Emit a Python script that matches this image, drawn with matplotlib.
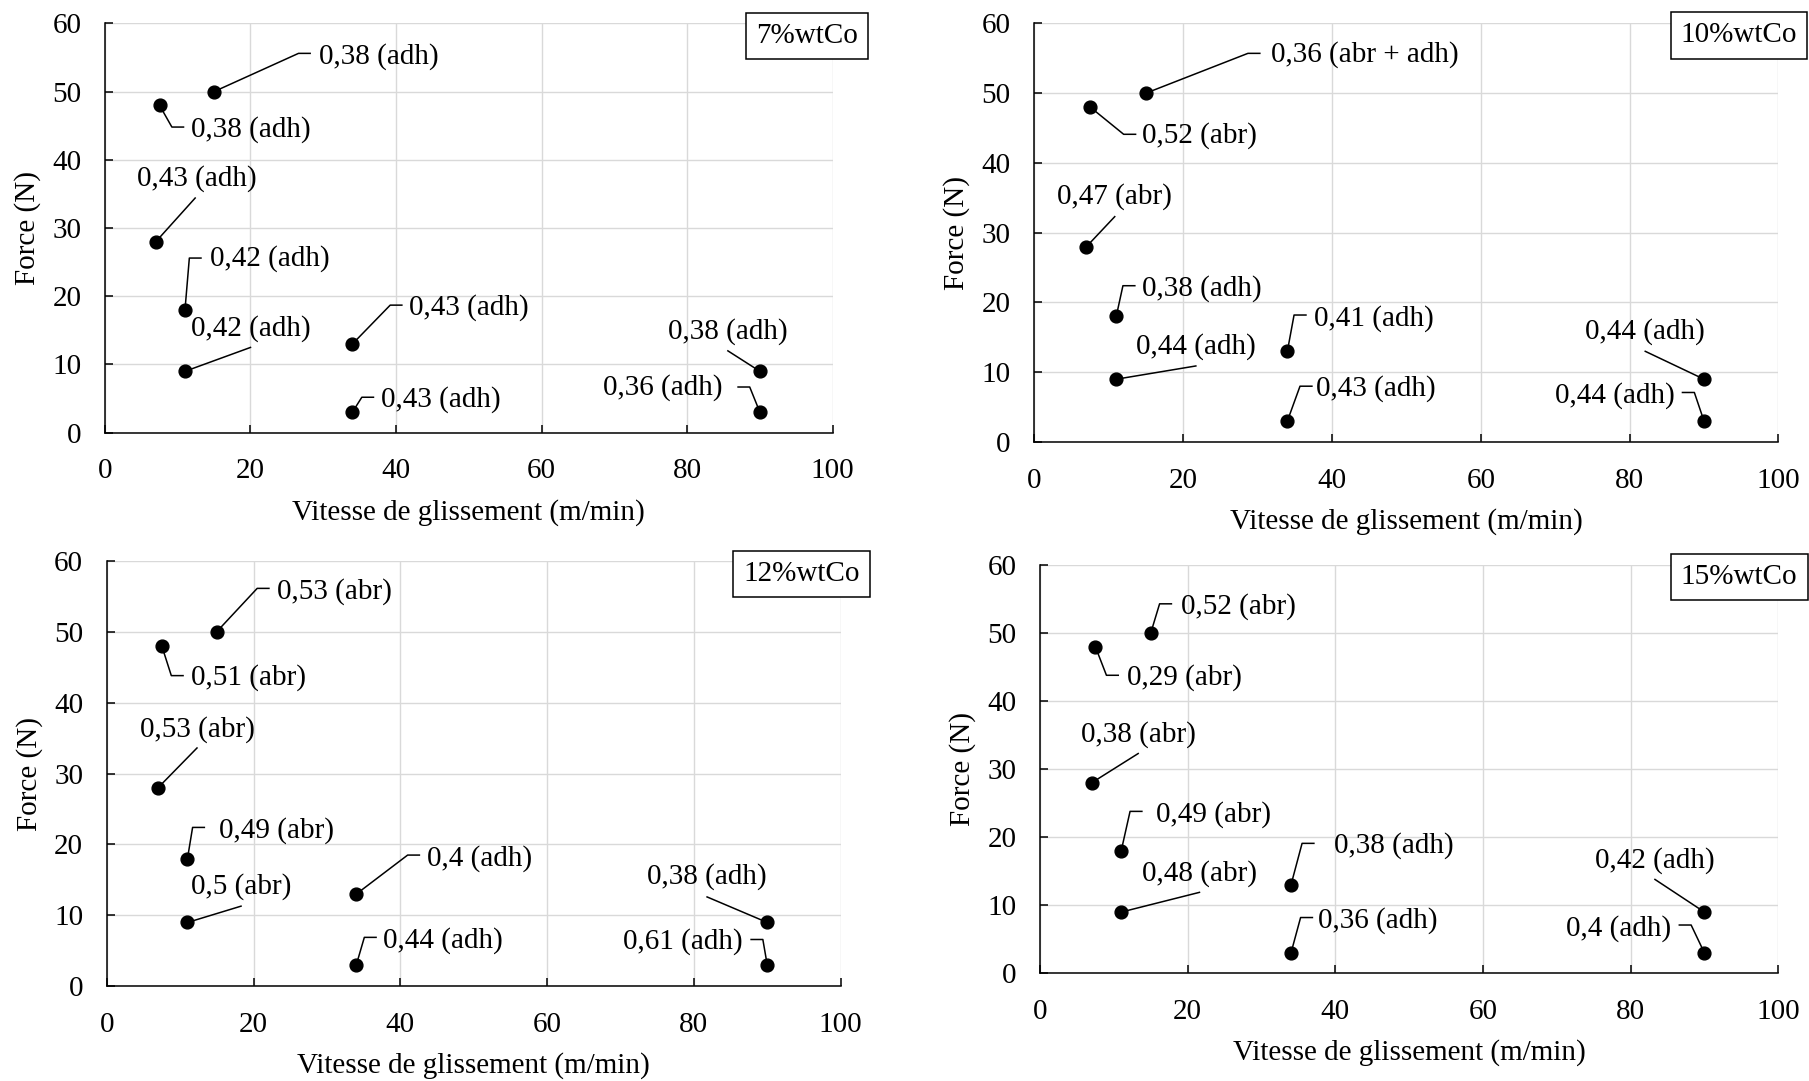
import numpy as np
import matplotlib
matplotlib.use('Agg')
import matplotlib.pyplot as plt

plt.rcParams['font.family'] = ['Liberation Serif', 'DejaVu Serif']
plt.rcParams['font.size'] = 21

# points (same for every composition)
vitesse = [15, 7.5, 7, 11, 11, 34, 34, 90, 90]
force = [50, 48, 28, 18, 9, 13, 3, 9, 3]

titres = ['7%wtCo', '10%wtCo', '12%wtCo', '15%wtCo']

coef_7 = [0.38, 0.38, 0.43, 0.42, 0.42, 0.43, 0.43, 0.38, 0.36]
mode_7 = ['adh', 'adh', 'adh', 'adh', 'adh', 'adh', 'adh', 'adh', 'adh']
coef_10 = [0.36, 0.52, 0.47, 0.38, 0.44, 0.41, 0.43, 0.44, 0.44]
mode_10 = ['abr + adh', 'abr', 'abr', 'adh', 'adh', 'adh', 'adh', 'adh', 'adh']
coef_12 = [0.53, 0.51, 0.53, 0.49, 0.5, 0.4, 0.44, 0.38, 0.61]
mode_12 = ['abr', 'abr', 'abr', 'abr', 'abr', 'adh', 'adh', 'adh', 'adh']
coef_15 = [0.52, 0.29, 0.38, 0.49, 0.48, 0.38, 0.36, 0.42, 0.4]
mode_15 = ['abr', 'abr', 'abr', 'abr', 'abr', 'adh', 'adh', 'adh', 'adh']

coefs = [coef_7, coef_10, coef_12, coef_15]
modes = [mode_7, mode_10, mode_12, mode_15]

# layout of the leader lines: kind, elbow x, elbow y, text x, text y
etiq_7 = [('R', 26.6, 55.6, 29.4, 55.1), ('R', 9.2, 44.8, 11.8, 44.4),
          ('T', 12.4, 34.4, 12.6, 37.2), ('R', 11.6, 25.6, 14.4, 25.5),
          ('T', 20.0, 12.5, 20.0, 15.3), ('R', 39.2, 18.7, 41.8, 18.4),
          ('R', 35.3, 5.2, 38.0, 4.9), ('T', 85.6, 12.0, 85.6, 14.9),
          ('L', 88.6, 6.7, 84.8, 6.6)]
etiq_10 = [('R', 28.7, 55.7, 31.8, 55.5), ('R', 12.0, 44.1, 14.5, 43.9),
           ('T', 10.8, 32.3, 10.8, 35.2), ('R', 11.9, 22.4, 14.5, 22.0),
           ('T', 21.7, 10.9, 21.7, 13.7), ('R', 34.9, 18.2, 37.6, 17.7),
           ('R', 35.7, 8.0, 37.9, 7.7), ('T', 82.1, 13.0, 82.1, 15.9),
           ('L', 88.7, 7.1, 86.0, 6.7)]
etiq_12 = [('R', 20.5, 56.1, 23.2, 55.7), ('R', 8.8, 43.8, 11.5, 43.5),
           ('T', 12.3, 33.6, 12.3, 36.2), ('R', 11.7, 22.4, 15.3, 21.9),
           ('T', 18.3, 11.3, 18.3, 14.1), ('R', 41.0, 18.5, 43.7, 18.0),
           ('R', 35.1, 6.9, 37.7, 6.5), ('T', 81.8, 12.6, 81.8, 15.5),
           ('L', 89.4, 6.6, 86.7, 6.3)]
etiq_15 = [('R', 16.2, 54.3, 19.1, 53.9), ('R', 9.0, 43.8, 11.8, 43.5),
           ('T', 13.3, 32.3, 13.3, 35.1), ('R', 12.2, 23.8, 15.7, 23.4),
           ('T', 21.6, 11.9, 21.6, 14.7), ('R', 35.5, 19.1, 39.8, 18.8),
           ('R', 35.3, 8.2, 37.6, 7.7), ('T', 83.3, 13.8, 83.3, 16.6),
           ('L', 88.2, 7.1, 85.5, 6.6)]
etiquettes = [etiq_7, etiq_10, etiq_12, etiq_15]

# axes rectangles (left, bottom, width, height) in figure fraction
positions = [(0.0580, 0.5997, 0.4023, 0.3787),
             (0.5718, 0.5911, 0.4113, 0.3873),
             (0.0590, 0.0876, 0.4057, 0.3937),
             (0.5749, 0.0996, 0.4081, 0.3777)]
boite_xy = [(0.965, 0.969), (0.947, 0.971), (0.947, 0.969), (0.947, 0.970)]

fig = plt.figure(figsize=(18.09, 10.81), dpi=100)

for i in range(4):
    ax = fig.add_axes(positions[i])
    ax.set_xlim(0, 100)
    ax.set_ylim(0, 60)
    ax.set_xticks(np.arange(0, 101, 20))
    ax.set_yticks(np.arange(0, 61, 10))
    ax.grid(True, color='#d9d9d9', linewidth=1.0)
    ax.set_axisbelow(True)
    for s in ['top', 'right']:
        ax.spines[s].set_visible(False)
    for s in ['left', 'bottom']:
        ax.spines[s].set_linewidth(1.1)
        ax.spines[s].set_color('black')
    ax.tick_params(direction='in', length=6, width=1.1, labelsize=21)
    ax.tick_params(axis='x', pad=18.5)
    ax.tick_params(axis='y', pad=17)

    ax.scatter(vitesse, force, s=85, color='black', zorder=5, clip_on=False)

    for j in range(len(vitesse)):
        x = vitesse[j]
        y = force[j]
        txt = str(coefs[i][j]).replace('.', ',') + ' (' + modes[i][j] + ')'
        kind, ex, ey, tx, ty = etiquettes[i][j]
        if kind == 'R':
            ax.plot([x, ex, ex + 1.6], [y, ey, ey], color='black', lw=1.1)
            ax.text(tx, ty, txt, ha='left', va='center')
        elif kind == 'L':
            ax.plot([x, ex, ex - 1.6], [y, ey, ey], color='black', lw=1.1)
            ax.text(tx, ty, txt, ha='right', va='center')
        else:
            ax.plot([x, ex], [y, ey], color='black', lw=1.1)
            ax.text(tx, ty, txt, ha='center', va='center')

    ax.set_xlabel('Vitesse de glissement (m/min)', fontsize=21)
    ax.set_ylabel('Force (N)', fontsize=21)
    h_px = positions[i][3] * 1081
    w_px = positions[i][2] * 1809
    ax.xaxis.set_label_coords(0.5, -(66.0 / h_px))
    ax.yaxis.set_label_coords(-(64.0 / w_px), 0.5)

    bx, by = boite_xy[i]
    ax.text(bx, by, titres[i], transform=ax.transAxes, ha='center', va='center',
            fontsize=21, clip_on=False,
            bbox=dict(boxstyle='square,pad=0.35', facecolor='white',
                      edgecolor='black', linewidth=1.1))

plt.savefig('out.png', dpi=100)
